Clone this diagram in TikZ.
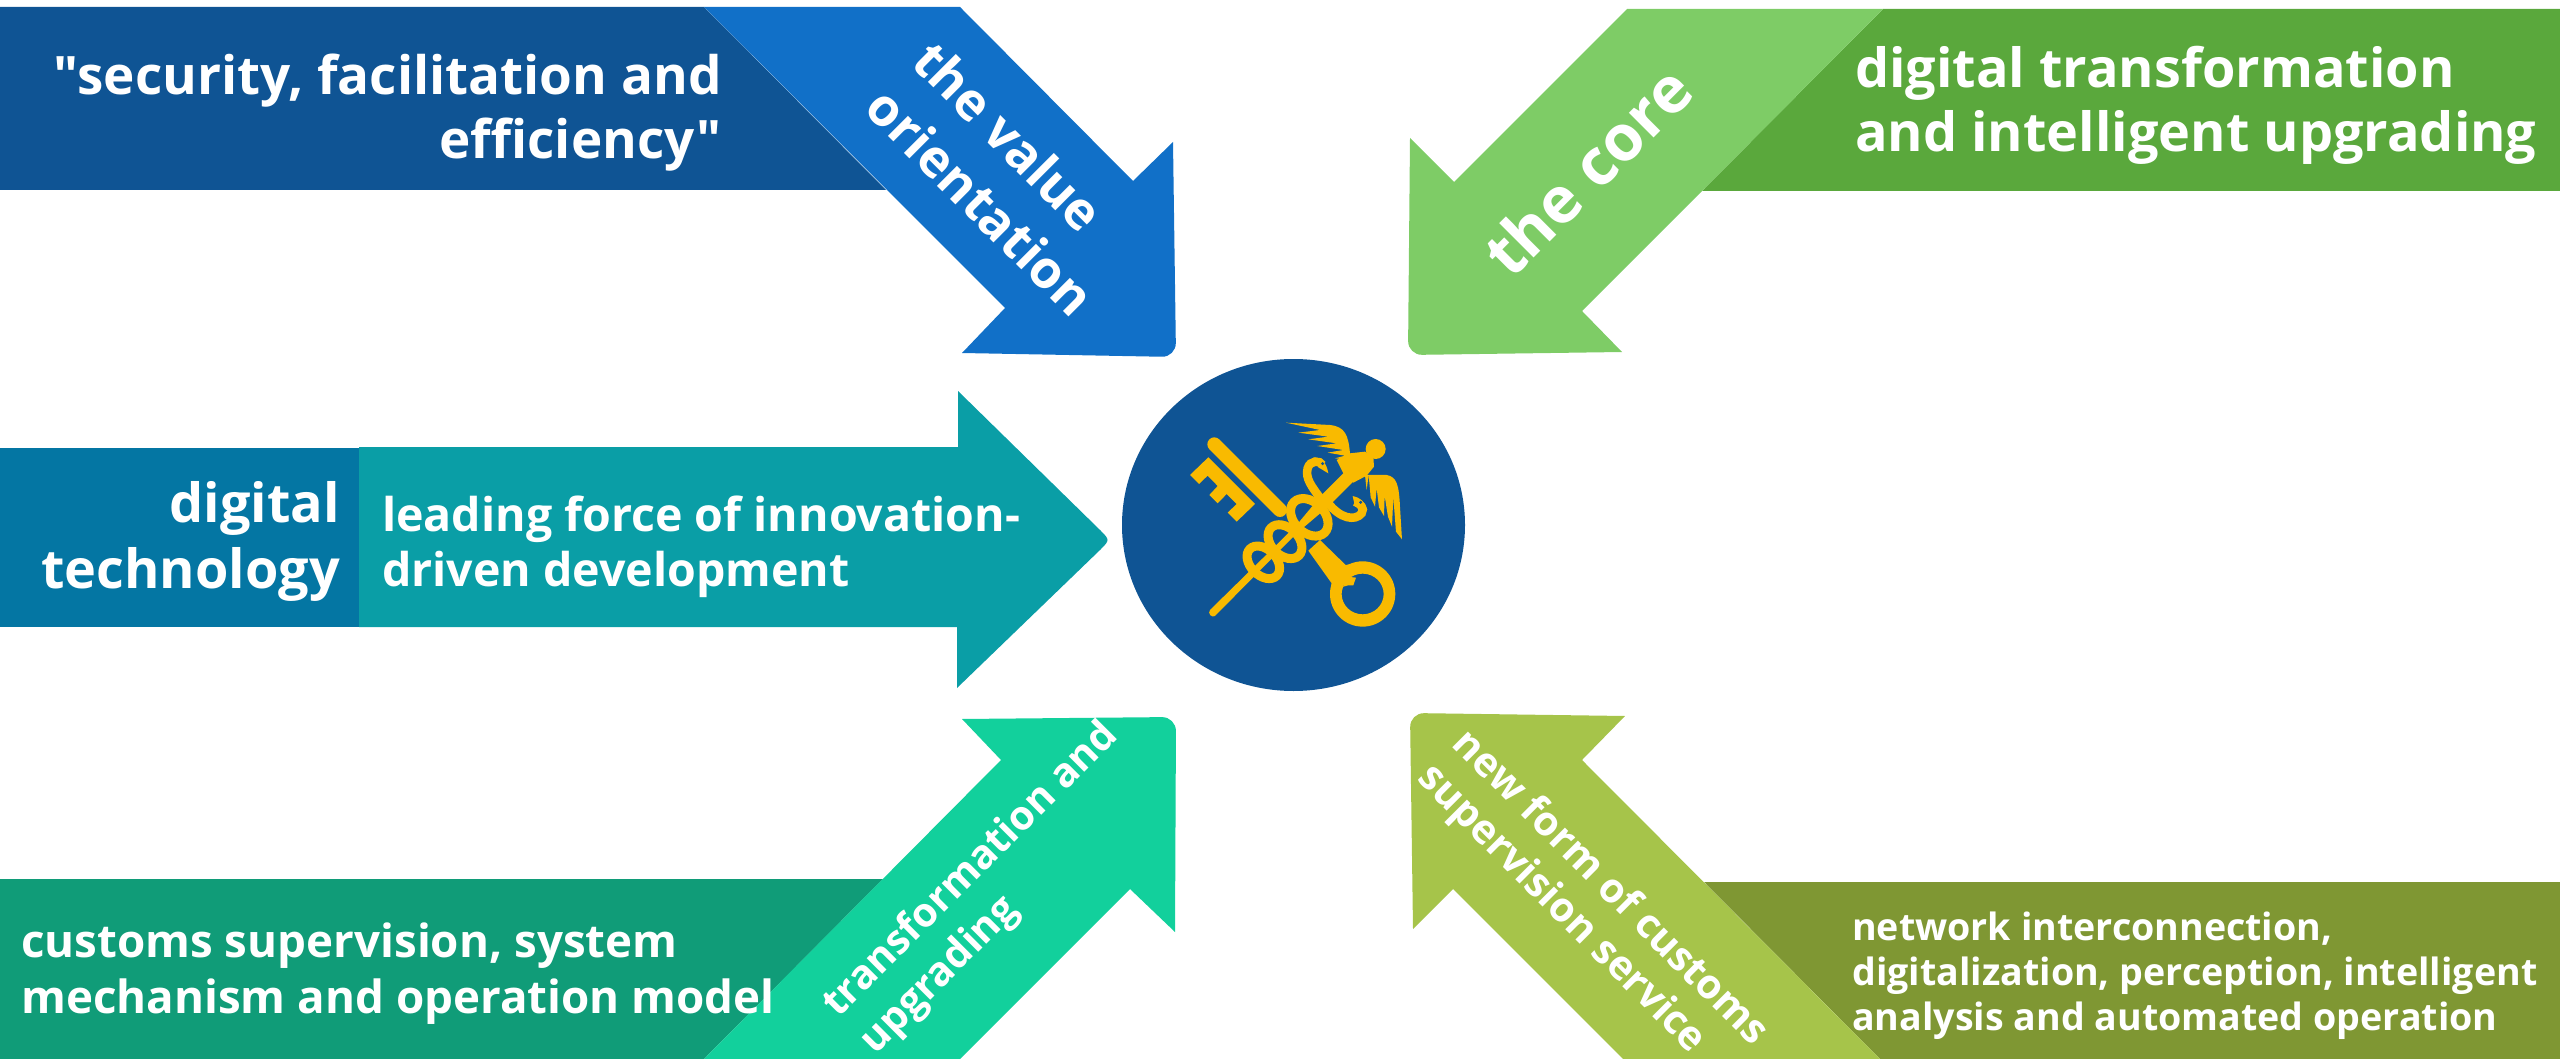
\documentclass[tikz,border=0pt]{standalone}
\usepackage{fontspec}
\setmainfont{Open Sans}[Ligatures=TeXOff]
\definecolor{blueD}{HTML}{0F5494}
\definecolor{blueL}{HTML}{1170C8}
\definecolor{tealD}{HTML}{0476A3}
\definecolor{tealL}{HTML}{0A9EA6}
\definecolor{seaD}{HTML}{109C78}
\definecolor{seaL}{HTML}{12D09C}
\definecolor{grnD}{HTML}{5AA83C}
\definecolor{grnL}{HTML}{7ECC66}
\definecolor{oliD}{HTML}{7F9733}
\definecolor{oliL}{HTML}{A6C44A}
\definecolor{gold}{HTML}{F9BA00}
\tikzset{
  txt/.style={text=white,inner sep=0pt},
  fs/.style 2 args={font=\bfseries\fontsize{#1}{#2}\selectfont},
  goldstroke/.style={draw=gold,line width=9pt,fill=none},
  snake/.style={draw=gold,line width=8.5pt,fill=none},
}
\begin{document}
\begin{tikzpicture}[x=1pt,y=-1pt]
\useasboundingbox (0,0) rectangle (2560,1059);
% top left
\fill[blueD] (0,7) -- (704,7) -- (886,190) -- (0,190) -- cycle;
\fill[blueL] (704,7) -- (960,7) -- (1133,181) -- (1173,142) [rounded corners=14pt] -- (1176,357) [sharp corners] -- (962,353) -- (1005,308) -- cycle;
% top right
\fill[grnD] (1883,9) -- (2560,9) -- (2560,191) -- (1702,191) -- cycle;
\fill[grnL] (1627,9) -- (1883,9) -- (1702,191) -- (1582,311) -- (1622,352) [rounded corners=14pt] -- (1408,355) [sharp corners] -- (1410,138) -- (1454,182) -- cycle;
% middle
\fill[tealD] (0,448) rectangle (359,627);
\fill[tealL] (359,447) -- (958,447) -- (958,391) -- (1100,530) .. controls (1110,540) .. (1100,550) -- (957,688) -- (957,627) -- (359,627) -- cycle;
% bottom left
\fill[seaD] (0,879) -- (883,879) -- (704,1059) -- (0,1059) -- cycle;
\fill[seaL] (704,1059) -- (1001,760) -- (962,719) [rounded corners=14pt] -- (1176,717) [sharp corners] -- (1175,932) -- (1130,889) -- (960,1059) -- cycle;
% bottom right
\fill[oliD] (1704,882) -- (2560,882) -- (2560,1059) -- (1880,1059) -- cycle;
\fill[oliL] (1880,1059) -- (1582,760) -- (1625,716) [rounded corners=14pt] -- (1410,713) [sharp corners] -- (1413,929) -- (1453,889) -- (1623,1059) -- cycle;
% disc
\fill[blueD] (1293.5,525) ellipse [x radius=171.5, y radius=166];
% emblem
\begin{scope}[shift={(1180,410)},x=0.3333pt,y=-0.3333pt]
  \fill[gold] (85,142) -- (225,282) -- (170,335) -- (143,308) -- (170,282) -- (140,252) -- (113,280) -- (88,255) -- (113,228) -- (83,197) -- (57,222) -- (30,195) -- cycle;
  \draw[gold,line width=14pt,line cap=round] (103,103) -- (300,300);
  \fill[gold] (420,390) -- (497,465) -- (530,460) -- (500,500) -- (450,560) -- (455,520) -- (385,422) -- cycle;
  \fill[gold,even odd rule] (548,552) ellipse [x radius=98,y radius=98] (548,552) ellipse [x radius=63,y radius=61];
  \fill[gold] (484,545) -- (490,530) -- (505,526) -- (520,526) -- (528,503) -- (500,500) -- cycle;
  \draw[goldstroke,rotate around={-45:(388,322)}] (388,322) ellipse [x radius=65,y radius=46];
  \draw[goldstroke,rotate around={-45:(315,395)}] (315,395) ellipse [x radius=59,y radius=41];
  \draw[goldstroke,rotate around={-45:(250,457)}] (250,457) ellipse [x radius=57,y radius=39];
  % staff
  \fill[gold] (90,600) -- (350,345) -- (425,255) -- (495,185) -- (520,215) -- (450,285) -- (350,370) -- (105,618) .. controls (95,625) and (82,610) .. (90,600) -- cycle;
  % snakes
  \draw[snake] (425,270) .. controls (395,230) and (375,205) .. (383,175) .. controls (390,150) and (420,150) .. (428,165);
  \fill[gold] (400,143) .. controls (425,140) and (440,160) .. (445,190) -- (415,172) -- cycle;
  \fill[blueD] (428,161) circle [radius=5];
  \draw[snake] (445,280) .. controls (480,325) and (525,335) .. (545,310) .. controls (555,295) and (540,280) .. (525,275);
  \fill[gold] (518,258) .. controls (540,262) and (555,275) .. (562,300) -- (525,290) -- cycle;
  \fill[blueD] (542,277) circle [radius=5];
  % bird
  \fill[gold] (587,117) circle [radius=30];
  \fill[gold] (470,150) -- (510,130) -- (555,125) -- (580,140) -- (582,170) -- (560,197) -- (520,218) -- (490,190) -- cycle;
  \fill[gold] (318,38) -- (450,45) .. controls (495,50) and (505,75) .. (510,130) -- (515,150) -- (465,145) -- (495,137) -- (443,128) -- (490,120) -- (412,108) -- (470,100) -- (385,88) -- (445,80) -- (355,68) -- (420,60) -- cycle;
  \fill[gold] (555,195) -- (620,195) .. controls (650,200) and (657,225) .. (660,290) -- (666,388) -- (648,365) -- (640,262) -- (636,350) -- (624,320) -- (614,258) -- (612,318) -- (597,292) -- (590,235) -- (585,290) -- (572,262) -- (566,195) -- (560,240) -- cycle;
\end{scope}
% labels
\node[txt,fs={53}{64},align=right,anchor=south east] (tl) at (722,171) {"security, facilitation and\\efficiency"};
\node[txt,fs={54}{64},align=left,anchor=south west] (tr) at (1855,165) {digital transformation\\and intelligent upgrading};
\node[txt,fs={54}{66},align=right,anchor=south east] (ml) at (340,602) {digital\\technology};
\node[txt,fs={46.5}{55},align=left,anchor=south west] (mr) at (382,598) {leading force of innovation-\\driven development};
\node[txt,fs={45.7}{56},align=left,anchor=south west] (bl) at (21,1025) {customs supervision, system\\mechanism and operation model};
\node[txt,fs={37.6}{45},align=left,anchor=south west] (br) at (1852,1040) {network interconnection,\\digitalization, perception, intelligent\\analysis and automated operation};
\node[txt,fs={52}{66},align=left,rotate=-45] (tlr) at (1004,178) {the value\\orientation};
\node[txt,fs={64}{70},rotate=45] (trr) at (1587,171) {the core};
\node[txt,fs={40.4}{52},align=left,rotate=45] (blr) at (990,889) {transformation and\\upgrading};
\node[txt,fs={40.6}{49},align=left,rotate=-45] (brr) at (1592,906) {new form of customs\\supervision service};
\end{tikzpicture}
\end{document}
